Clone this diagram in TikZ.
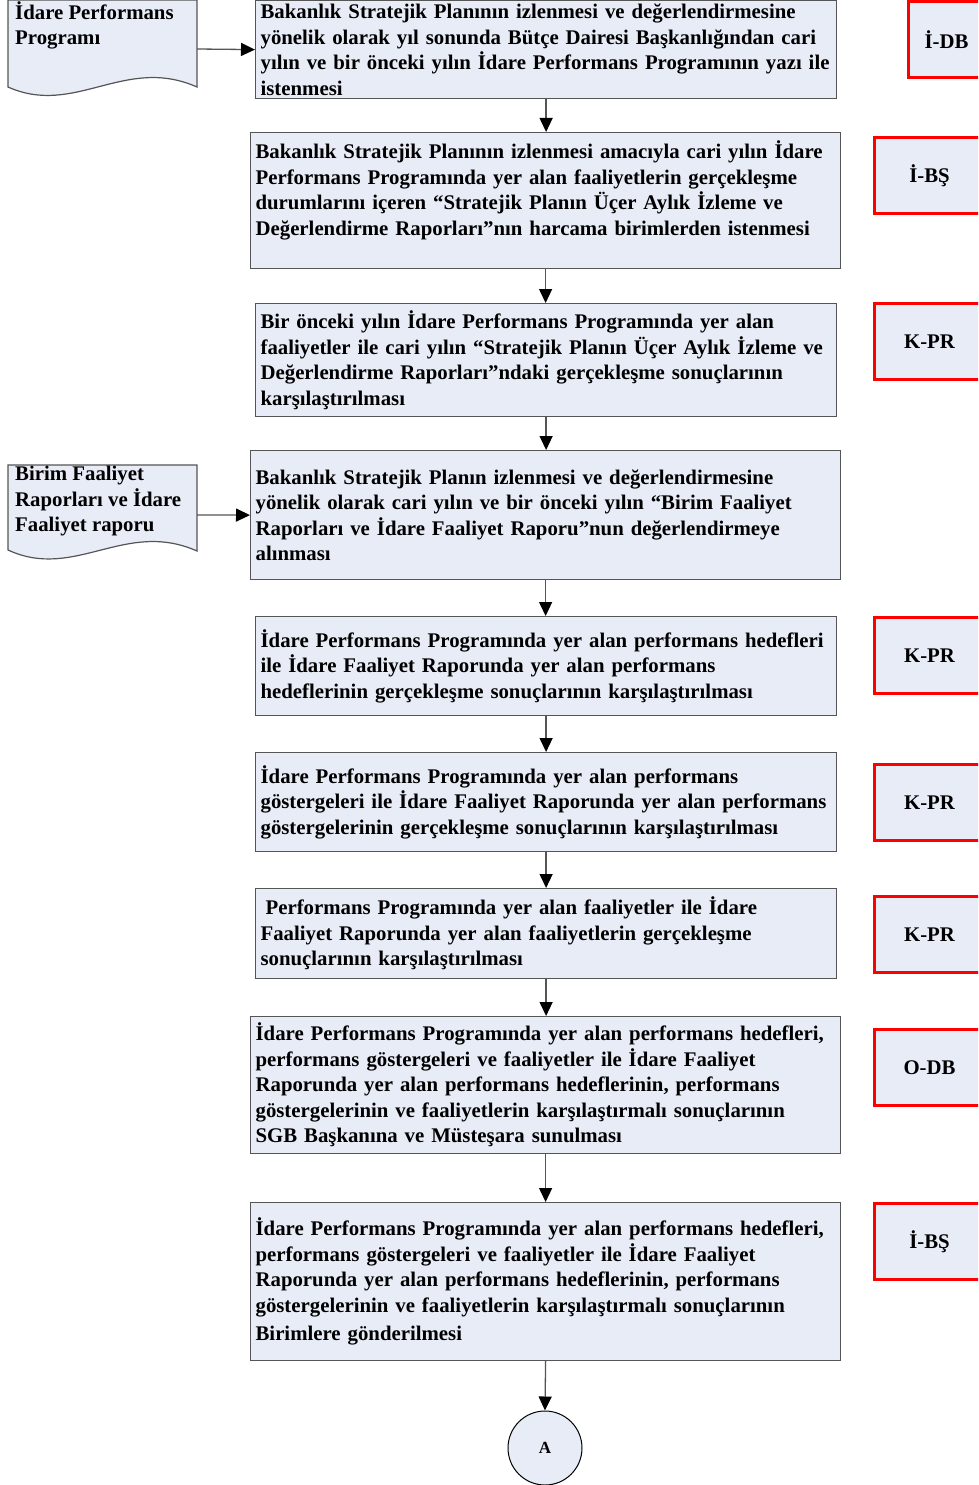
\documentclass[tikz,border=0pt]{standalone}
\usepackage{fontspec}
\setmainfont{Liberation Serif}
\usetikzlibrary{arrows.meta}
\definecolor{boxfill}{RGB}{231,236,247}
\definecolor{boxline}{RGB}{85,85,85}
\definecolor{redline}{RGB}{255,0,0}
\tikzset{
  mainfont/.style={font=\bfseries\fontsize{20.8}{25.5}\selectfont},
  stepbox/.style={draw=boxline, fill=boxfill, line width=1.2pt, anchor=north west,
    inner xsep=5pt, inner ysep=2pt, align=left, mainfont},
  boxA/.style={stepbox, minimum width=581pt, text width=571pt},
  boxB/.style={stepbox, minimum width=590pt, text width=580pt},
  codebox/.style={draw=redline, fill=boxfill, line width=3pt, anchor=north west,
    minimum height=76pt, minimum width=110pt, inner sep=0pt, mainfont},
  docshape/.style={draw=boxline, fill=boxfill, line width=1.2pt},
  doctext/.style={anchor=north west, inner sep=0pt, align=left, mainfont},
  conn/.style={draw=boxline, line width=1.3pt, -{Triangle[length=14pt,width=13pt,color=black]}},
  endcircle/.style={circle, draw=black, fill=boxfill, line width=1pt, minimum size=74pt,
    inner sep=0pt, font=\bfseries\fontsize{17}{20}\selectfont}
}
\begin{document}
\begin{tikzpicture}[x=1pt,y=-1pt]
\clip (0,0) rectangle (978,1485);
\fill[white] (0,0) rectangle (978,1485);

% documents
\draw[docshape] (8,0) -- (197,0) -- (197,87) .. controls (125,55) and (75,117) .. (8,87) -- cycle;
\node[doctext] (d1t) at (15,1) {İdare Performans\\Programı};
\coordinate (d1r) at (197,49);

\draw[docshape] (8,465) -- (197,465) -- (197,551) .. controls (125,519) and (75,581) .. (8,550) -- cycle;
\node[doctext] (d2t) at (15,466) {Birim Faaliyet\\Raporları ve İdare\\Faaliyet raporu};
\coordinate (d2r) at (197,515);

% main steps
\node[boxA, minimum height=98pt] (b1) at (255,0) {%
\mbox{Bakanlık Stratejik Planının izlenmesi ve değerlendirmesine}\\
\mbox{yönelik olarak yıl sonunda Bütçe Dairesi Başkanlığından cari}\\
\mbox{yılın ve bir önceki yılın İdare Performans Programının yazı ile}\\
\mbox{istenmesi}};

\node[boxB, minimum height=136pt] (b2) at (250,132) {%
\mbox{Bakanlık Stratejik Planının izlenmesi amacıyla cari yılın İdare}\\
\mbox{Performans Programında yer alan faaliyetlerin gerçekleşme}\\
\mbox{durumlarını içeren “Stratejik Planın Üçer Aylık İzleme ve}\\
\mbox{Değerlendirme Raporları”nın harcama birimlerden istenmesi}\\
\mbox{}};

\node[boxA, minimum height=113pt] (b3) at (255,303) {%
\mbox{Bir önceki yılın İdare Performans Programında yer alan}\\
\mbox{faaliyetler ile cari yılın “Stratejik Planın Üçer Aylık İzleme ve}\\
\mbox{Değerlendirme Raporları”ndaki gerçekleşme sonuçlarının}\\
\mbox{karşılaştırılması}};

\node[boxB, minimum height=129pt] (b4) at (250,450) {%
\mbox{Bakanlık Stratejik Planın izlenmesi ve değerlendirmesine}\\
\mbox{yönelik olarak cari yılın ve bir önceki yılın “Birim Faaliyet}\\
\mbox{Raporları ve İdare Faaliyet Raporu”nun değerlendirmeye}\\
\mbox{alınması}};

\node[boxA, minimum height=99pt] (b5) at (255,616) {%
\mbox{İdare Performans Programında yer alan performans hedefleri}\\
\mbox{ile İdare Faaliyet Raporunda yer alan performans}\\
\mbox{hedeflerinin gerçekleşme sonuçlarının karşılaştırılması}};

\node[boxA, minimum height=99pt] (b6) at (255,752) {%
\mbox{İdare Performans Programında yer alan performans}\\
\mbox{göstergeleri ile İdare Faaliyet Raporunda yer alan performans}\\
\mbox{göstergelerinin gerçekleşme sonuçlarının karşılaştırılması}};

\node[boxA, minimum height=90pt] (b7) at (255,888) {%
\mbox{\hspace*{5pt}Performans Programında yer alan faaliyetler ile İdare}\\
\mbox{Faaliyet Raporunda yer alan faaliyetlerin gerçekleşme}\\
\mbox{sonuçlarının karşılaştırılması}};

\node[boxB, minimum height=137pt] (b8) at (250,1016) {%
\mbox{İdare Performans Programında yer alan performans hedefleri,}\\
\mbox{performans göstergeleri ve faaliyetler ile İdare Faaliyet}\\
\mbox{Raporunda yer alan performans hedeflerinin, performans}\\
\mbox{göstergelerinin ve faaliyetlerin karşılaştırmalı sonuçlarının}\\
\mbox{SGB Başkanına ve Müsteşara sunulması}};

\node[boxB, minimum height=158pt] (b9) at (250,1202) {%
\mbox{İdare Performans Programında yer alan performans hedefleri,}\\
\mbox{performans göstergeleri ve faaliyetler ile İdare Faaliyet}\\
\mbox{Raporunda yer alan performans hedeflerinin, performans}\\
\mbox{göstergelerinin ve faaliyetlerin karşılaştırmalı sonuçlarının}\\[3pt]
\mbox{Birimlere gönderilmesi}};

\node[endcircle] (A) at (545,1448) {A};

% responsibility codes
\node[codebox, minimum width=76pt] (r1) at (907,0) {İ-DB};
\node[codebox] (r2) at (873,136) {İ-BŞ};
\node[codebox] (r3) at (873,302) {K-PR};
\node[codebox] (r5) at (873,616) {K-PR};
\node[codebox] (r6) at (873,763) {K-PR};
\node[codebox] (r7) at (873,895) {K-PR};
\node[codebox] (r8) at (873,1028) {O-DB};
\node[codebox] (r9) at (873,1202) {İ-BŞ};

% connectors
\draw[conn] (d1r) -- (b1.west);
\draw[conn] (d2r) -- (b4.west);
\draw[conn] (b1.south) -- (b1.south |- b2.north);
\draw[conn] (b2.south) -- (b2.south |- b3.north);
\draw[conn] (b3.south) -- (b3.south |- b4.north);
\draw[conn] (b4.south) -- (b4.south |- b5.north);
\draw[conn] (b5.south) -- (b5.south |- b6.north);
\draw[conn] (b6.south) -- (b6.south |- b7.north);
\draw[conn] (b7.south) -- (b7.south |- b8.north);
\draw[conn] (b8.south) -- (b8.south |- b9.north);
\draw[conn] (b9.south) -- (A.north);
\end{tikzpicture}
\end{document}
